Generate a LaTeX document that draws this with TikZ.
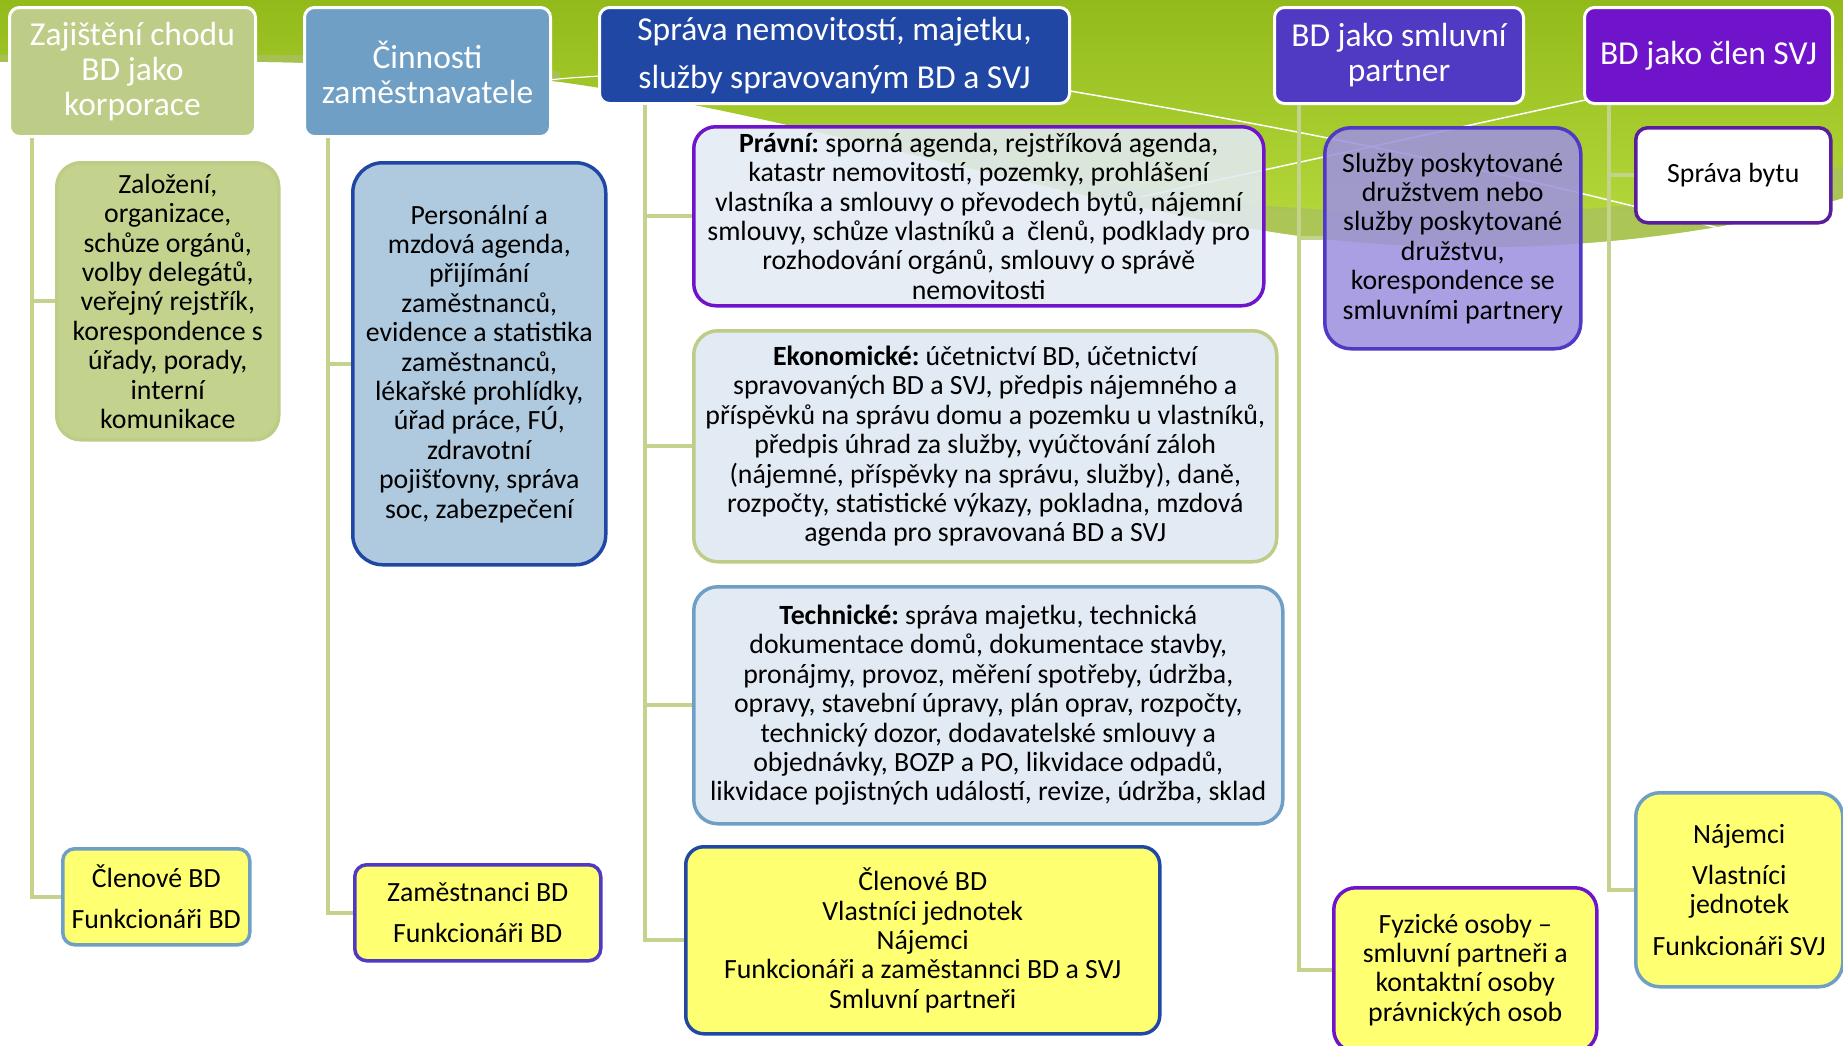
\documentclass[tikz,border=0pt]{standalone}
\usepackage{fontspec}
\setmainfont{Carlito}
\frenchspacing
\definecolor{gDark}{HTML}{93BA1B}
\definecolor{gLight}{HTML}{BADD40}
\definecolor{gOlive}{HTML}{A9C15E}
\definecolor{linkc}{HTML}{C3D38C}
\definecolor{cOlive}{HTML}{BDCC86}
\definecolor{cOliveFill}{HTML}{C3D38E}
\definecolor{cSteel}{HTML}{6F9FC4}
\definecolor{cSteelFill}{HTML}{AFC9DE}
\definecolor{cNavy}{HTML}{2147A5}
\definecolor{cIndigo}{HTML}{503AC4}
\definecolor{cIndigoFill}{HTML}{9E92DE}
\definecolor{cViolet}{HTML}{7014CC}
\definecolor{cPlum}{HTML}{5A1E9C}
\definecolor{cPale}{HTML}{E2EAF3}
\definecolor{cYellow}{HTML}{FFFF72}
\begin{document}
\begin{tikzpicture}[x=1pt,y=-1pt,
  hdr/.style={draw=white, line width=3pt, rounded corners=10pt, text=white,
    align=center, inner sep=0pt, anchor=north west,
    font=\fontsize{33.5}{35}\selectfont},
  card/.style={line width=3.5pt, align=center, inner sep=1pt, anchor=north west,
    text=black, font=\fontsize{27.8}{29.4}\selectfont},
  link/.style={draw=linkc, line width=4pt}]
\useasboundingbox (0,0) rectangle (1843,1045);

% green swoosh behind the headers
\shade[top color=gDark, bottom color=gLight]
  (0,0) -- (1843,0) -- (1843,198)
  .. controls (1700,240) and (1500,262) .. (1300,236)
  .. controls (1050,200) and (800,115) .. (560,82)
  .. controls (400,60) and (250,60) .. (0,62) -- cycle;
% olive rim along the lower edge
\fill[gOlive, opacity=.8]
  (1843,198) .. controls (1700,240) and (1500,262) .. (1300,236)
  .. controls (1150,216) and (1000,170) .. (880,135)
  .. controls (1000,160) and (1150,200) .. (1300,208)
  .. controls (1500,226) and (1700,205) .. (1843,166) -- cycle;
\fill[gOlive, opacity=.8]
  (560,82) .. controls (400,60) and (250,60) .. (0,62) -- (0,55)
  .. controls (250,53) and (400,53) .. (560,72) -- cycle;
% thin white streaks
\draw[white, line width=1.5pt] (1070,91) .. controls (1300,130) and (1500,170) .. (1722,229);
\draw[white, line width=1.5pt] (1590,99) -- (1140,197);
\draw[white, line width=1.2pt] (549,80) .. controls (565,78) and (585,77) .. (600,76);

% column headers
\node[hdr, fill=cOlive, minimum width=246pt, minimum height=129pt] (h1) at (8,6)
  {Zajištění chodu\\BD jako\\korporace};
\node[hdr, fill=cSteel, minimum width=246pt, minimum height=129pt] (h2) at (303,6)
  {Činnosti\\zaměstnavatele};
\node[hdr, fill=cNavy, minimum width=470pt, minimum height=96pt,
      font=\fontsize{33.5}{48}\selectfont] (h3) at (598,6)
  {Správa nemovitostí, majetku,\\služby spravovaným BD a SVJ};
\node[hdr, fill=cIndigo, minimum width=249pt, minimum height=96pt] (h4) at (1273,6)
  {BD jako smluvní\\partner};
\node[hdr, fill=cViolet, minimum width=248pt, minimum height=96pt] (h5) at (1583,6)
  {BD jako člen SVJ};

% column 1
\node[card, draw=cOlive, fill=cOliveFill, rounded corners=24pt,
      minimum width=222pt, minimum height=277pt] (c1a) at (55,161)
  {Založení,\\organizace,\\schůze orgánů,\\volby delegátů,\\veřejný rejstřík,\\korespondence s\\úřady, porady,\\interní\\komunikace};
\node[card, draw=cSteel, fill=cYellow, rounded corners=12pt,
      minimum width=187pt, minimum height=96pt] (c1b) at (61,847)
  {Členové BD\\[12pt]Funkcionáři BD};

% column 2
\node[card, draw=cNavy, fill=cSteelFill, rounded corners=30pt,
      minimum width=253pt, minimum height=402pt] (c2a) at (351,161)
  {Personální a\\mzdová agenda,\\přijímání\\zaměstnanců,\\evidence a statistika\\zaměstnanců,\\lékařské prohlídky,\\úřad práce, FÚ,\\zdravotní\\pojišťovny, správa\\soc, zabezpečení};
\node[card, draw=cIndigo, fill=cYellow, rounded corners=12pt,
      minimum width=246pt, minimum height=96pt] (c2b) at (353,863)
  {Zaměstnanci BD\\[12pt]Funkcionáři BD};

% column 3
\node[card, draw=cViolet, fill=cPale, fill opacity=.88, text opacity=1, rounded corners=22pt,
      minimum width=570pt, minimum height=179pt] (c3a) at (692,125)
  {\textbf{Právní:} sporná agenda, rejstříková agenda,\\katastr nemovitostí, pozemky, prohlášení\\vlastníka a smlouvy o převodech bytů, nájemní\\smlouvy, schůze vlastníků a \ členů, podklady pro\\rozhodování orgánů, smlouvy o správě\\nemovitosti};
\node[card, draw=cOlive, fill=cPale, rounded corners=24pt,
      minimum width=583pt, minimum height=231pt] (c3b) at (692,329)
  {\textbf{Ekonomické:} účetnictví BD, účetnictví\\spravovaných BD a SVJ, předpis nájemného a\\příspěvků na správu domu a pozemku u vlastníků,\\předpis úhrad za služby, vyúčtování záloh\\(nájemné, příspěvky na správu, služby), daně,\\rozpočty, statistické výkazy, pokladna, mzdová\\agenda pro spravovaná BD a SVJ};
\node[card, draw=cSteel, fill=cPale, rounded corners=24pt,
      minimum width=589pt, minimum height=237pt] (c3c) at (692,585)
  {\textbf{Technické:} správa majetku, technická\\dokumentace domů, dokumentace stavby,\\pronájmy, provoz, měření spotřeby, údržba,\\opravy, stavební úpravy, plán oprav, rozpočty,\\technický dozor, dodavatelské smlouvy a\\objednávky, BOZP a PO, likvidace odpadů,\\likvidace pojistných událostí, revize, údržba, sklad};
\node[card, draw=cNavy, fill=cYellow, rounded corners=18pt,
      minimum width=474pt, minimum height=187pt] (c3d) at (684,845)
  {Členové BD\\Vlastníci jednotek\\Nájemci\\Funkcionáři a zaměstannci BD a SVJ\\Smluvní partneři};

% column 4
\node[card, draw=cIndigo, fill=cIndigoFill, fill opacity=.88, text opacity=1, rounded corners=26pt,
      minimum width=256pt, minimum height=221pt] (c4a) at (1323,126)
  {Služby poskytované\\družstvem nebo\\služby poskytované\\družstvu,\\korespondence se\\smluvními partnery};
\node[card, draw=cViolet, fill=cYellow, rounded corners=22pt,
      minimum width=263pt, minimum height=164pt] (c4b) at (1332,886)
  {Fyzické osoby –\\smluvní partneři a\\kontaktní osoby\\právnických osob};

% column 5
\node[card, draw=cPlum, fill=white, rounded corners=12pt,
      minimum width=195pt, minimum height=95pt] (c5a) at (1634,126)
  {Správa bytu};
\node[card, draw=cSteel, fill=cYellow, rounded corners=24pt,
      minimum width=207pt, minimum height=194pt] (c5b) at (1634,791)
  {Nájemci\\[12pt]Vlastníci\\jednotek\\[12pt]Funkcionáři SVJ};

% connectors from each header down to its cards
\draw[link] ([xshift=24pt]h1.south west) |- (c1a.west);
\draw[link] ([xshift=24pt]h1.south west) |- (c1b.west);
\draw[link] ([xshift=25pt]h2.south west) |- (c2a.west);
\draw[link] ([xshift=25pt]h2.south west) |- (c2b.west);
\draw[link] ([xshift=47pt]h3.south west) |- (c3a.west);
\draw[link] ([xshift=47pt]h3.south west) |- (c3b.west);
\draw[link] ([xshift=47pt]h3.south west) |- (c3c.west);
\draw[link] ([xshift=47pt]h3.south west) |- (c3d.west);
\draw[link] ([xshift=26pt]h4.south west) |- (c4a.west);
\draw[link] ([xshift=26pt]h4.south west) |- (c4b.west);
\draw[link] ([xshift=26pt]h5.south west) |- (c5a.west);
\draw[link] ([xshift=26pt]h5.south west) |- (c5b.west);
\end{tikzpicture}
\end{document}
